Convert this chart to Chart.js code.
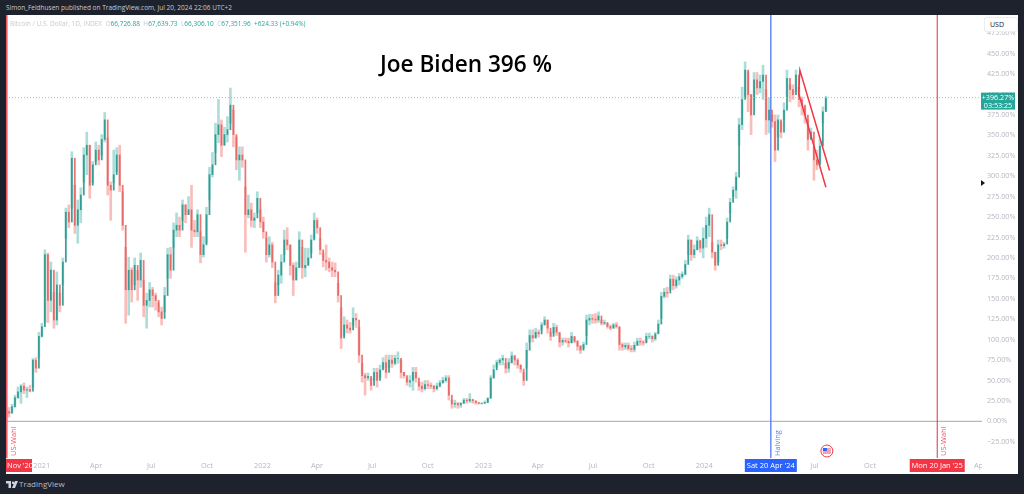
<!DOCTYPE html>
<html>
<head>
<meta charset="utf-8">
<script src="https://cdn.jsdelivr.net/npm/chart.js@4"></script>
<style>
    html, body { margin: 0; padding: 0; width: 1024px; height: 494px; overflow: hidden; background: #1e222d; font-family: "Open Sans", sans-serif; }
    #publisher { position: absolute; left: 6px; top: 3px; font-size: 6.5px; line-height: 10px; color: #c8cbd3; white-space: nowrap; }
    #panel { position: absolute; left: 6px; top: 15px; width: 1012px; height: 459px; background: #fff; }
    #myChart { display: block; }
    #legend { position: absolute; left: 10px; top: 19px; font-size: 6.5px; line-height: 9px; color: #26a69a; white-space: nowrap; }
    #legend span { color: #c6c9d0; }
    #headline { position: absolute; left: 380px; top: 49px; font-family: "Open Sans", sans-serif; font-size: 22.6px; font-weight: 600; line-height: 30px; color: #000; white-space: nowrap; }
    #currency { position: absolute; left: 984px; top: 17px; width: 32px; height: 13px; background: #fff; border: 1px solid #eceef2; border-radius: 2px; font-size: 7px; line-height: 13px; color: #131722; text-indent: 5px; }
    #brand { position: absolute; left: 19px; top: 479px; font-size: 8px; line-height: 10px; color: #b8bbc4; white-space: nowrap; }
    #logo { position: absolute; left: 6px; top: 481px; }
</style>
</head>
<body>
<div id="publisher">Simon_Feldhusen published on TradingView.com, Jul 20, 2024 22:06 UTC+2</div>
<div id="panel"><canvas id="myChart" width="1012" height="459"></canvas></div>
<div id="legend"><span>Bitcoin / U.S. Dollar, 1D, INDEX &nbsp;O</span>66,726.88 &nbsp;<span>H</span>67,639.73 &nbsp;<span>L</span>66,306.10 &nbsp;<span>C</span>67,351.96 &nbsp;+624.33 (+0.94%)</div>
<div id="headline">Joe Biden 396 %</div>
<div id="currency">USD</div>
<svg id="logo" width="12" height="7" viewBox="0 0 12 7"><path d="M0 0h5v7H2.500V2.500H0z M7 3a1.200 1.200 0 1 0 0-2.400A1.200 1.200 0 0 0 7 3z M9 0h3L9 7H6z" fill="#d1d4dc"/></svg>
<div id="brand">TradingView</div>
<script>
// percent change, one candle about every 5 days from 3 Nov 2020 to 20 Jul 2024
const highs = [
    15,17,21,32,42,45,47,42,44,77,78,109,120,210,206,195,158,183,157,200,
    261,265,330,289,271,286,335,354,338,318,342,338,351,378,347,293,332,335,338,281,
    213,201,188,200,185,206,173,157,170,164,157,145,140,164,212,213,243,255,250,271,
    265,275,289,246,259,232,226,262,311,329,365,394,369,360,373,408,381,348,336,336,
    287,277,267,255,281,259,250,224,226,219,170,185,204,234,237,216,194,195,232,213,
    212,212,228,255,249,224,206,216,200,195,194,169,139,128,124,121,139,132,115,71,
    59,59,53,65,65,69,78,81,81,81,81,85,75,60,53,56,66,66,48,48,
    50,50,47,44,47,50,54,56,56,26,26,23,23,28,28,34,26,25,23,23,
    25,29,56,69,75,77,81,71,77,85,81,77,69,60,96,112,112,114,112,121,
    128,124,109,120,118,108,102,102,102,109,103,99,93,97,130,131,131,132,134,124,
    124,120,118,120,121,115,96,96,96,93,97,102,102,99,108,108,105,109,124,158,
    163,164,179,179,177,181,183,197,228,222,216,226,222,237,250,261,219,207,222,222,
    219,249,273,287,305,371,409,440,428,400,427,427,424,436,406,396,375,375,375,367,
    390,430,412,412,430,409,397,385,369,359,336,332,345,385,398
];
const lows = [
    1,5,10,17,28,22,34,29,36,42,60,78,103,121,121,134,114,118,134,167,
    224,237,261,230,218,243,293,302,273,292,318,314,326,342,277,246,292,305,281,234,
    120,130,146,167,148,164,128,114,140,140,136,128,118,134,175,175,213,226,226,246,
    243,253,213,226,226,194,201,218,271,299,329,341,324,338,342,365,336,308,295,311,
    207,249,238,237,255,237,224,195,201,188,145,167,169,204,210,179,154,173,189,175,
    177,191,206,224,230,204,189,185,183,177,177,146,89,105,108,108,118,115,72,48,
    32,50,38,50,42,53,65,53,66,66,69,71,53,53,44,42,38,48,38,36,
    38,40,40,36,38,42,47,48,26,16,17,16,17,22,22,23,22,21,21,21,
    22,23,29,53,66,69,69,59,60,71,69,65,60,44,65,97,97,102,103,112,
    118,108,99,108,105,91,93,96,91,96,96,87,83,89,105,118,120,120,121,118,
    118,114,112,114,114,87,87,88,87,85,85,93,93,93,97,101,97,99,108,126,
    151,152,161,161,163,167,175,179,204,197,200,210,207,200,213,226,200,185,195,210,
    212,224,255,275,273,338,357,396,379,351,394,400,402,394,351,353,360,318,348,347,
    369,397,391,394,403,385,375,365,332,347,295,308,316,365,381
];
const closes = [
    12,10,18,29,36,43,38,39,37,75,65,104,116,204,148,185,124,167,142,195,
    256,244,322,240,259,277,326,338,289,314,332,320,345,369,289,283,302,326,289,240,
    161,185,161,191,173,197,142,148,161,154,148,134,126,154,204,185,234,240,234,265,
    253,259,234,232,253,204,216,253,302,314,351,363,338,351,357,387,351,320,326,320,
    253,259,246,249,273,244,232,204,216,195,154,179,195,222,216,191,173,188,222,188,
    191,200,222,246,237,210,197,195,188,185,183,154,102,118,114,112,126,124,81,56,
    53,55,44,60,50,63,72,60,75,71,77,77,60,56,48,50,60,53,43,40,
    45,44,43,40,43,47,50,53,32,21,22,20,22,26,25,27,25,23,22,22,
    23,28,53,63,72,75,77,65,72,80,75,69,64,50,87,105,102,109,107,118,
    124,114,104,115,109,97,99,98,96,104,98,92,87,94,124,126,125,124,129,120,
    121,116,114,118,116,94,91,93,89,88,93,98,97,96,104,104,101,107,119,153,
    158,157,174,166,173,177,180,192,222,204,210,221,212,224,240,253,207,191,216,215,
    217,244,268,283,299,363,394,430,400,375,418,408,416,424,369,381,367,332,369,354,
    381,420,406,400,424,394,387,375,345,354,320,314,337,379,396
];
const opens = [
    0,12,10,18,29,36,43,38,39,37,75,65,104,116,204,148,185,124,167,142,
    195,256,244,322,240,259,277,326,338,289,314,332,320,345,369,289,283,302,326,289,
    240,161,185,161,191,173,197,142,148,161,154,148,134,126,154,204,185,234,240,234,
    265,253,259,234,232,253,204,216,253,302,314,351,363,338,351,357,387,351,320,326,
    320,253,259,246,249,273,244,232,204,216,195,154,179,195,222,216,191,173,188,222,
    188,191,200,222,246,237,210,197,195,188,185,183,154,102,118,114,112,126,124,81,
    56,53,55,44,60,50,63,72,60,75,71,77,77,60,56,48,50,60,53,43,
    40,45,44,43,40,43,47,50,53,32,21,22,20,22,26,25,27,25,23,22,
    22,23,28,53,63,72,75,77,65,72,80,75,69,64,50,87,105,102,109,107,
    118,124,114,104,115,109,97,99,98,96,104,98,92,87,94,124,126,125,124,129,
    120,121,116,114,118,116,94,91,93,89,88,93,98,97,96,104,104,101,107,119,
    153,158,157,174,166,173,177,180,192,222,204,210,221,212,224,240,253,207,191,216,
    215,217,244,268,283,299,363,394,430,400,375,418,408,416,424,369,381,367,332,369,
    354,381,420,406,400,424,394,387,375,345,354,320,314,337,379
];
const lastDay = 1355;

// days since 3 Nov 2020
const xTickDays = [59,149,240,332,424,514,605,697,789,879,970,1062,1154,1245,1336,1428,1520,1610];
const xTickLabels = ['2021','Apr','Jul','Oct','2022','Apr','Jul','Oct','2023','Apr','Jul','Oct','2024','Apr','Jul','Oct','2025','Apr'];
const yTicks = [-25,0,25,50,75,100,125,150,175,200,225,250,275,300,325,350,375,400,425,450,475];

const electionDay = 1;
const halvingDay = 1264;
const inaugurationDay = 1539;
const lastPercent = 396.27;
const channelDays = [1355, 1310, 1312, 1361];
const channelPercents = [286.5, 401.5, 430, 307];
const X_MAX = 1613;
const Y_MIN = -44.9;
const Y_MAX = 497.4;

const GREEN = '#26a69a';

const dayStep = lastDay / (highs.length - 1);
const candleDays = highs.map((h, i) => i * dayStep);
const wickData = candleDays.map((d, i) => ({ x: d, y: [lows[i], highs[i]] }));
const bodyData = candleDays.map((d, i) => ({ x: d, y: [opens[i], closes[i]] }));
const wickColors = closes.map((c, i) => c >= opens[i] ? 'rgba(38,166,154,0.38)' : 'rgba(239,83,80,0.38)');
const bodyColors = closes.map((c, i) => c >= opens[i] ? 'rgba(38,150,140,0.9)' : 'rgba(225,85,82,0.8)');

function vline(day, color, width) {
    return {
        type: 'line',
        data: [{ x: day, y: Y_MIN }, { x: day, y: Y_MAX }],
        borderColor: color,
        borderWidth: width,
        pointRadius: 0
    };
}

function dateTag(ctx, text, centerX, top, width, color) {
    ctx.fillStyle = color;
    ctx.fillRect(centerX - width / 2, top, width, 13);
    ctx.fillStyle = '#fff';
    ctx.font = '7.5px "Open Sans"';
    ctx.textAlign = 'center';
    ctx.textBaseline = 'middle';
    ctx.fillText(text, centerX, top + 7);
}

function sideLabel(ctx, text, x, bottom, color) {
    ctx.save();
    ctx.translate(x, bottom);
    ctx.rotate(-Math.PI / 2);
    ctx.fillStyle = color;
    ctx.font = '7.5px "Open Sans"';
    ctx.textAlign = 'left';
    ctx.textBaseline = 'middle';
    ctx.fillText(text, 0, 0);
    ctx.restore();
}

const overlays = {
    id: 'overlays',
    afterDraw(chart) {
        const ctx = chart.ctx;
        const xs = chart.scales.x;
        const ys = chart.scales.y;
        const area = chart.chartArea;
        const axisTop = area.bottom + 1;

        // x labels stop where the price scale starts
        ctx.fillStyle = '#fff';
        ctx.fillRect(area.right, area.bottom, chart.width - area.right, chart.height - area.bottom);

        ctx.fillStyle = '#f23645';
        ctx.fillRect(0, axisTop, 26, 13);
        ctx.fillStyle = '#fff';
        ctx.font = '7.5px "Open Sans"';
        ctx.textAlign = 'left';
        ctx.textBaseline = 'middle';
        ctx.fillText("Nov '20", 1, axisTop + 7);

        dateTag(ctx, "Sat 20 Apr '24", xs.getPixelForValue(halvingDay), axisTop, 52, '#2962ff');
        dateTag(ctx, "Mon 20 Jan '25", xs.getPixelForValue(inaugurationDay), axisTop, 55, '#f23645');

        sideLabel(ctx, 'US-Wahl', xs.getPixelForValue(electionDay) + 7, area.bottom - 2, '#f7525f');
        sideLabel(ctx, 'Halving', xs.getPixelForValue(halvingDay) + 7, area.bottom - 2, '#5b7ff5');
        sideLabel(ctx, 'US-Wahl', xs.getPixelForValue(inaugurationDay) + 7, area.bottom - 2, '#f7525f');

        // last price tag on the scale
        const py = ys.getPixelForValue(lastPercent);
        ctx.fillStyle = GREEN;
        ctx.fillRect(area.right - 1, py - 5, 34, 17);
        ctx.fillStyle = '#fff';
        ctx.font = '7.2px "Open Sans"';
        ctx.textAlign = 'center';
        ctx.textBaseline = 'middle';
        ctx.fillText('+396.27%', area.right + 16, py);
        ctx.fillText('03:53:25', area.right + 16, py + 8);

        // scale marker
        ctx.fillStyle = '#131722';
        ctx.beginPath();
        ctx.moveTo(area.right - 1, 165);
        ctx.lineTo(area.right + 3, 168);
        ctx.lineTo(area.right - 1, 171);
        ctx.closePath();
        ctx.fill();

        // news flag
        const fx = xs.getPixelForValue(1355);
        const fy = area.bottom - 7;
        ctx.strokeStyle = '#f23645';
        ctx.lineWidth = 1;
        ctx.fillStyle = '#fff';
        ctx.beginPath();
        ctx.arc(fx + 1, fy, 6, 0, Math.PI * 2);
        ctx.fill();
        ctx.stroke();
        ctx.fillStyle = '#f7a1a8';
        ctx.fillRect(fx - 3, fy - 3, 8, 6);
        ctx.fillStyle = '#2962ff';
        ctx.fillRect(fx - 3, fy - 3, 4, 3);
    }
};

new Chart(document.getElementById('myChart'), {
    type: 'bar',
    data: {
        datasets: [
            {
                type: 'line',
                data: channelDays.map((d, i) => ({ x: d, y: channelPercents[i] })),
                borderColor: '#f23645',
                borderWidth: 1.5,
                pointRadius: 0,
                tension: 0
            },
            vline(electionDay, '#f0596a', 2),
            vline(halvingDay, '#5076f5', 1.3),
            vline(inaugurationDay, '#d8324a', 1),
            {
                type: 'line',
                data: [{ x: 0, y: lastPercent }, { x: X_MAX, y: lastPercent }],
                borderColor: '#7fd0c8',
                borderWidth: 1,
                borderDash: [1, 2],
                pointRadius: 0
            },
            {
                type: 'line',
                data: [{ x: 0, y: 0 }, { x: X_MAX, y: 0 }],
                borderColor: '#b7b9c0',
                borderWidth: 1.2,
                pointRadius: 0
            },
            { data: bodyData, backgroundColor: bodyColors, barThickness: 1.1, grouped: false },
            { data: wickData, backgroundColor: wickColors, barThickness: 2, grouped: false }
        ]
    },
    plugins: [overlays],
    options: {
        responsive: false,
        animation: false,
        layout: { padding: 0 },
        plugins: { legend: { display: false }, tooltip: { enabled: false } },
        scales: {
            x: {
                type: 'linear',
                offset: false,
                min: 0,
                max: X_MAX,
                grid: { display: false, drawTicks: false },
                border: { display: false },
                afterBuildTicks: (scale) => { scale.ticks = xTickDays.map(v => ({ value: v })); },
                afterFit: (scale) => { scale.height = 16; scale.paddingLeft = 0; scale.paddingRight = 0; },
                ticks: {
                    autoSkip: false,
                    maxRotation: 0,
                    padding: 3,
                    color: '#b4b7bf',
                    font: { family: 'Open Sans', size: 7.4 },
                    callback: (v, i) => xTickLabels[i]
                }
            },
            y: {
                position: 'right',
                min: Y_MIN,
                max: Y_MAX,
                grid: { display: false, drawTicks: false },
                border: { display: false },
                afterBuildTicks: (scale) => { scale.ticks = yTicks.map(v => ({ value: v })); },
                afterFit: (scale) => { scale.width = 36; scale.paddingTop = 0; scale.paddingBottom = 0; },
                ticks: {
                    autoSkip: false,
                    padding: 5,
                    color: '#b4b7bf',
                    font: { family: 'Open Sans', size: 7.2 },
                    callback: (v) => (v < 0 ? '\u2212' + Math.abs(v).toFixed(2) : v.toFixed(2)) + '%'
                }
            }
        }
    }
});
</script>
</body>
</html>
